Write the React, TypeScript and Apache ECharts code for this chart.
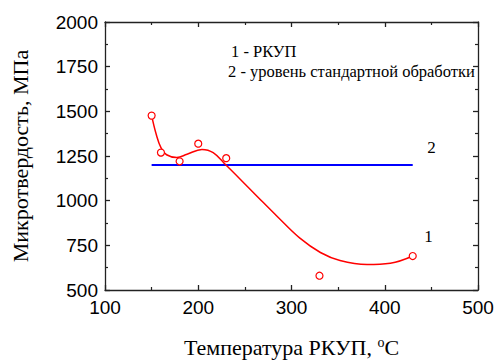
import React, { useEffect, useRef } from "react";
import * as echarts from "echarts";

// Measured points (temperature °C, microhardness MPa)
const pointTemps = [150, 160, 180, 200, 230, 330, 430];
const pointHardness = [1476, 1269, 1220, 1319, 1238, 580, 690];

// Fitted curve 1
const curveTemps = [150, 155, 160, 166, 177, 188, 204, 216, 230, 245, 263, 285, 309, 331, 352, 381, 406, 430];
const curveHardness = [1476, 1370, 1297, 1257, 1242, 1260, 1287, 1269, 1198, 1120, 1025, 910, 790, 710, 665, 643, 650, 690];

// Line 2: standard treatment level
const levelTemps = [150, 430];
const levelValue = 1200;

// Curve tags
const tagNames = ["1", "2"];
const tagTemps = [447, 450];
const tagValues = [800, 1297];

const legendLines = ["1 - РКУП", "2 - уровень стандартной обработки"];

const xTicks = { min: 100, max: 500, interval: 100 };
const yTicks = { min: 500, max: 2000, interval: 250 };

const SANS = "'Liberation Sans', Arial, sans-serif";
const SERIF = "'Liberation Serif', 'Times New Roman', serif";

export default function App() {
  const ref = useRef<HTMLDivElement>(null);

  useEffect(() => {
    if (!ref.current) return;
    const chart = echarts.init(ref.current, undefined, { renderer: "svg" });
    const axisLine = { show: true, lineStyle: { color: "#222", width: 1.3 } };
    const tick = { show: true, inside: true, length: 5, lineStyle: { color: "#222", width: 1.3 } };
    const minor = { show: true, splitNumber: 2, length: 3, lineStyle: { color: "#222", width: 1.2 } };
    const label = { color: "#000", fontSize: 19, fontFamily: SANS, formatter: (v: number) => String(v) };

    chart.setOption({
      animation: false,
      backgroundColor: "#fff",
      grid: { left: 105, top: 22, right: 22, bottom: 68 },
      xAxis: [
        {
          type: "value",
          position: "bottom",
          ...xTicks,
          axisLine,
          axisTick: tick,
          minorTick: minor,
          splitLine: { show: false },
          axisLabel: { ...label, margin: 8 },
          name: "{a|Температура РКУП, }{s|o}{a|C}",
          nameLocation: "middle",
          nameGap: 45,
          nameTextStyle: {
            rich: {
              a: { fontFamily: SERIF, fontSize: 22, color: "#000" },
              s: { fontFamily: SERIF, fontSize: 14, color: "#000", verticalAlign: "top", padding: [0, 0, 10, 0] },
            },
          },
        },
        {
          type: "value",
          position: "top",
          ...xTicks,
          axisLine,
          axisTick: tick,
          minorTick: minor,
          splitLine: { show: false },
          axisLabel: { show: false },
        },
      ],
      yAxis: [
        {
          type: "value",
          position: "left",
          ...yTicks,
          axisLine,
          axisTick: tick,
          minorTick: minor,
          splitLine: { show: false },
          axisLabel: { ...label, margin: 7 },
          name: "Микротвердость, МПа",
          nameLocation: "middle",
          nameGap: 74,
          nameRotate: 90,
          nameTextStyle: { fontFamily: SERIF, fontSize: 22, color: "#000" },
        },
        {
          type: "value",
          position: "right",
          ...yTicks,
          axisLine,
          axisTick: tick,
          minorTick: minor,
          splitLine: { show: false },
          axisLabel: { show: false },
        },
      ],
      series: [
        {
          name: "curve",
          type: "line",
          data: curveTemps.map((t, i) => [t, curveHardness[i]]),
          smooth: 0.4,
          showSymbol: false,
          lineStyle: { color: "#ff0000", width: 1.5 },
          z: 3,
        },
        {
          name: "points",
          type: "scatter",
          data: pointTemps.map((t, i) => [t, pointHardness[i]]),
          symbol: "circle",
          symbolSize: 7,
          itemStyle: { color: "#fff", borderColor: "#ff0000", borderWidth: 1.2, opacity: 1 },
          z: 4,
        },
        {
          name: "level",
          type: "line",
          data: levelTemps.map((t) => [t, levelValue]),
          showSymbol: false,
          lineStyle: { color: "#0000ff", width: 2 },
          z: 2,
        },
        {
          name: "tags",
          type: "scatter",
          data: tagNames.map((n, i) => ({ name: n, value: [tagTemps[i], tagValues[i]] })),
          symbolSize: 0,
          itemStyle: { opacity: 1 },
          label: {
            show: true,
            position: "inside",
            formatter: (p: any) => p.name,
            fontFamily: SERIF,
            fontSize: 17,
            color: "#000",
          },
          silent: true,
        },
      ],
      graphic: legendLines.map((t, i) => ({
        type: "text",
        left: 228 + (i === 0 ? 3 : 0),
        top: 43 + i * 20,
        style: { text: t, fontFamily: SERIF, fontSize: 16.5, fill: "#000" },
      })),
    });
    return () => chart.dispose();
  }, []);

  return (
    <div
      ref={ref}
      style={{ position: "absolute", left: 0, top: 0, width: 500, height: 363 }}
    />
  );
}
